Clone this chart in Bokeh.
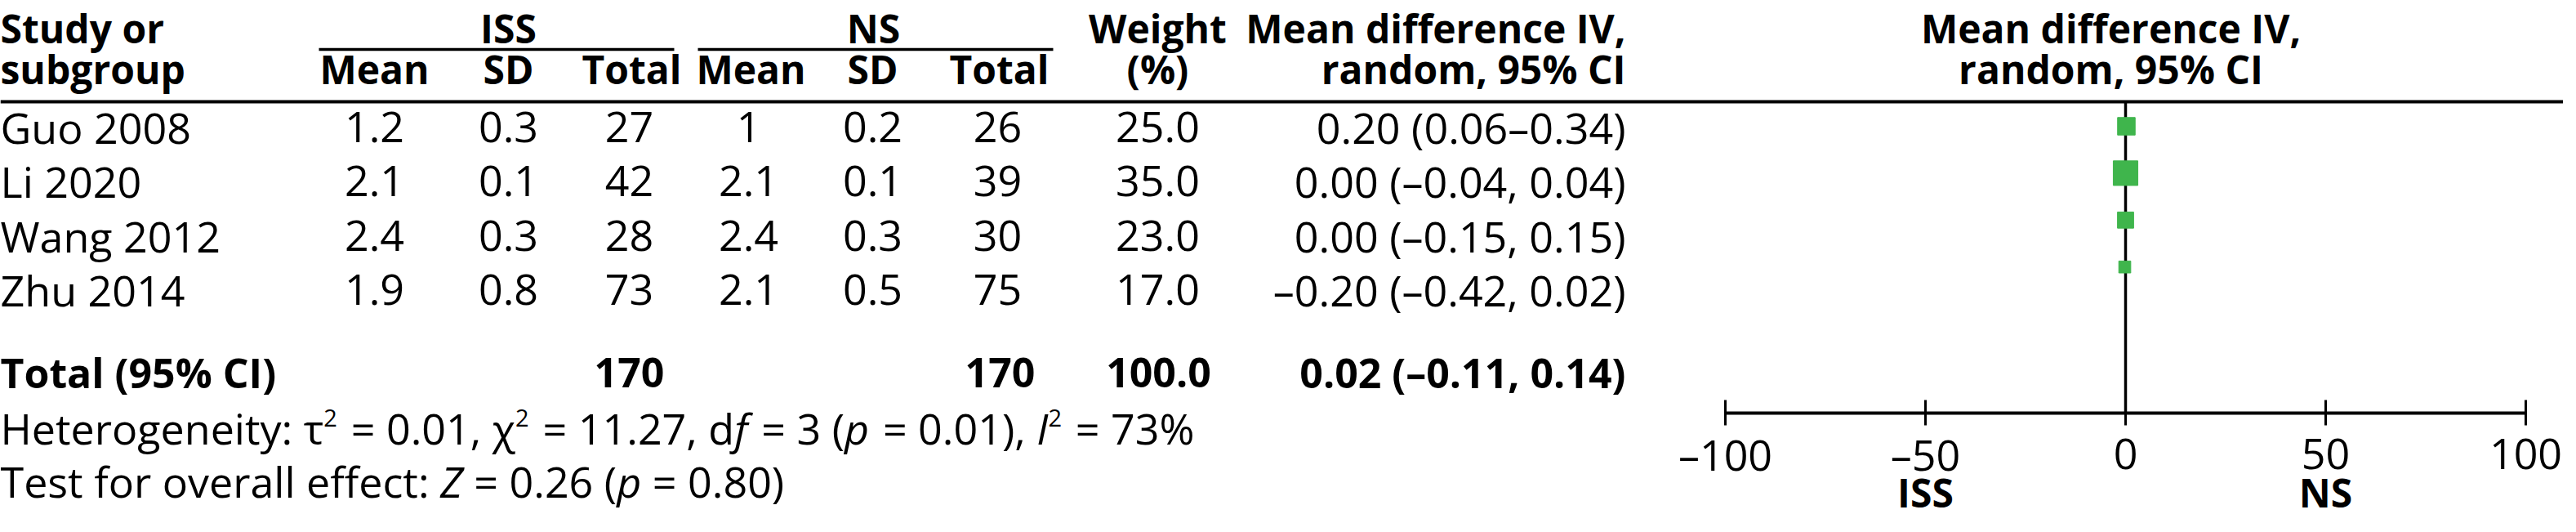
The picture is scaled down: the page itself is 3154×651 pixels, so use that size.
import subprocess
from bokeh.plotting import figure
from bokeh.models import Range1d
from bokeh.core.properties import value
from bokeh.embed import file_html
from bokeh.resources import INLINE

# ---------------- data ----------------
studies = ["Guo 2008", "Li 2020", "Wang 2012", "Zhu 2014"]
iss_mean = [1.2, 2.1, 2.4, 1.9]
iss_sd = [0.3, 0.1, 0.3, 0.8]
iss_total = [27, 42, 28, 73]
ns_mean = [1, 2.1, 2.4, 2.1]
ns_sd = [0.2, 0.1, 0.3, 0.5]
ns_total = [26, 39, 30, 75]
weights = [25.0, 35.0, 23.0, 17.0]
md = [0.20, 0.00, 0.00, -0.20]
md_lo = [0.06, -0.04, -0.15, -0.42]
md_hi = [0.34, 0.04, 0.15, 0.02]
ci_labels = ["0.20 (0.06–0.34)", "0.00 (–0.04, 0.04)",
             "0.00 (–0.15, 0.15)", "–0.20 (–0.42, 0.02)"]
total_name = "Total (95% CI)"
total_iss = 170
total_ns = 170
total_weight = 100.0
total_ci = "0.02 (–0.11, 0.14)"
axis_ticks = [-100, -50, 0, 50, 100]
axis_tick_labels = ["–100", "–50", "0", "50", "100"]
favour_labels = ["ISS", "NS"]
favour_pos = [-50, 50]

het_parts = [("Heterogeneity: τ", "normal"), ("2", "sup"), (" = 0.01, χ", "normal"),
             ("2", "sup"), (" = 11.27, d", "normal"), ("f", "italic"),
             (" = 3 (", "normal"), ("p", "italic"), (" = 0.01), ", "normal"),
             ("I", "italic"), ("2", "sup"), (" = 73%", "normal")]
test_parts = [("Test for overall effect: ", "normal"), ("Z", "italic"),
              (" = 0.26 (", "normal"), ("p", "italic"), (" = 0.80)", "normal")]

# ---------------- layout / style ----------------
FONT = "Open Sans"
FS = 52          # regular text
HFS = 48         # bold header text
TFS = 50         # bold total row
SUP_FS = 29
GREEN = "#3fb54c"
W, H = 3138, 635
MARGIN = 8
LEFT = MARGIN
BASE_OFF = 0.37  # text glyphs land this many em below the requested baseline

# layout units == page pixels (the page has an 8px margin)
p = figure(width=W, height=H, x_range=Range1d(MARGIN, MARGIN + W),
           y_range=Range1d(MARGIN + H, MARGIN),
           output_backend="svg", toolbar_location=None, min_border=0,
           x_axis_location=None, y_axis_location=None)
p.grid.visible = False
p.outline_line_color = None
p.background_fill_color = "white"
p.border_fill_color = "white"

ZERO_PX = 2610.0
PX_PER_UNIT = 4.9
p.extra_x_ranges = {"forest": Range1d((MARGIN - ZERO_PX) / PX_PER_UNIT,
                                      (MARGIN + W - ZERO_PX) / PX_PER_UNIT)}


def txt(xs, ys, texts, align="left", style="normal", size=FS, rng="default"):
    p.text(x=list(xs), y=[y - BASE_OFF * size for y in ys], text=list(texts), text_align=align,
           text_baseline="alphabetic", text_line_height=1.0, text_font=value(FONT),
           text_font_size=f"{size}px", text_font_style=style,
           text_color="black", x_range_name=rng)


_paths = {}


def _font_path(style):
    if style not in _paths:
        pat = {"normal": FONT, "italic": FONT + ":italic", "bold": FONT + ":bold"}[style]
        path = None
        try:
            out = subprocess.run(["fc-match", "-f", "%{file}", pat],
                                 capture_output=True, text=True, timeout=5).stdout.strip()
            path = out or None
        except Exception:
            path = None
        _paths[style] = path
    return _paths[style]


def measure(s, style, size):
    try:
        from PIL import ImageFont
        f = ImageFont.truetype(_font_path(style), size)
        return f.getlength(s)
    except Exception:
        return len(s) * 0.55 * size


def _kind_font(kind):
    return ("italic" if kind == "italic" else "normal"), (SUP_FS if kind == "sup" else FS)


def mixed_line(parts, x0, y, x_end):
    # natural positions measured with the real font; the extra width of the
    # reference line is shared out over the spaces that open a piece
    starts, nbound, x, nb = [], [], 0.0, 0
    for s, kind in parts:
        style, size = _kind_font(kind)
        lead = len(s) - len(s.lstrip(" "))
        nb += lead
        starts.append(x + (measure(" " * lead, style, size) if lead else 0.0))
        nbound.append(nb)
        x += measure(s, style, size)
    last_s, last_k = parts[-1]
    st_, sz_ = _kind_font(last_k)
    natural_end = starts[-1] + measure(last_s.strip(" "), st_, sz_)
    extra = min(8.0, max(0.0, (x_end - x0) - natural_end) / max(nbound[-1], 1))
    for (s, kind), st, n in zip(parts, starts, nbound):
        style, size = _kind_font(kind)
        body = s.strip(" ")
        if body:
            txt([x0 + st + extra * n], [y - 20 if kind == "sup" else y], [body],
                style=style, size=size)


# ---------------- header ----------------
H1, H2 = 60, 110
txt([LEFT], [H1], ["Study or"], style="bold", size=HFS)
txt([LEFT], [H2], ["subgroup"], style="bold", size=HFS)
txt([630, 1077], [H1, H1], ["ISS", "NS"], align="center", style="bold", size=HFS)
UL = 68
p.segment(x0=[398, 862], y0=[UL, UL], x1=[833, 1297], y1=[UL, UL], line_color="black", line_width=3.5)
sub_x = [466, 630, 781, 927, 1076, 1231]
txt(sub_x, [H2] * 6, ["Mean", "SD", "Total", "Mean", "SD", "Total"], align="center",
    style="bold", size=HFS)
txt([1425, 1425], [H1, H2], ["Weight", "(%)"], align="center", style="bold", size=HFS)
txt([1998, 1998], [H1, H2], ["Mean difference IV,", "random, 95% CI"], align="right",
    style="bold", size=HFS)
txt([2592, 2592], [H1, H2], ["Mean difference IV,", "random, 95% CI"], align="center",
    style="bold", size=HFS)
p.segment(x0=[MARGIN], y0=[132], x1=[MARGIN + W], y1=[132], line_color="black", line_width=4)

# ---------------- study rows ----------------
ROW0, ROWDY = 182, 66.4
row_y = [ROW0 + i * ROWDY for i in range(len(studies))]
txt([LEFT] * 4, row_y, studies)
txt([466] * 4, row_y, [f"{v:g}" for v in iss_mean], align="center")
txt([630] * 4, row_y, [f"{v:g}" for v in iss_sd], align="center")
txt([778] * 4, row_y, [str(v) for v in iss_total], align="center")
txt([924] * 4, row_y, [f"{v:g}" for v in ns_mean], align="center")
txt([1076] * 4, row_y, [f"{v:g}" for v in ns_sd], align="center")
txt([1229] * 4, row_y, [str(v) for v in ns_total], align="center")
txt([1425] * 4, row_y, [f"{v:.1f}" for v in weights], align="center")
txt([1998] * 4, row_y, ci_labels, align="right")

# ---------------- total row ----------------
TOT_Y = 482
txt([LEFT], [TOT_Y], [total_name], style="bold", size=TFS)
txt([778, 1232, 1426], [TOT_Y] * 3, [str(total_iss), str(total_ns), f"{total_weight:.1f}"],
    align="center", style="bold", size=TFS)
txt([1998], [TOT_Y], [total_ci], align="right", style="bold", size=TFS)

mixed_line(het_parts, LEFT, 550, 1470)
mixed_line(test_parts, LEFT, 615, 952)

# ---------------- forest panel ----------------
F0, FDY = 162, 57.4
f_y = [F0 + i * FDY for i in range(len(studies))]
p.segment(x0=[0], y0=[132], x1=[0], y1=[513], x_range_name="forest", line_color="black", line_width=3.5)
p.segment(x0=md_lo, y0=f_y, x1=md_hi, y1=f_y, x_range_name="forest", line_color="black", line_width=2)
p.scatter(x=md, y=f_y, size=[w * 0.86 for w in weights], marker="square",
          fill_color=GREEN, line_color=GREEN, x_range_name="forest")

AX_Y = 513
p.segment(x0=[axis_ticks[0]], y0=[AX_Y], x1=[axis_ticks[-1]], y1=[AX_Y],
          x_range_name="forest", line_color="black", line_width=4)
p.segment(x0=axis_ticks, y0=[AX_Y - 16] * len(axis_ticks), x1=axis_ticks,
          y1=[AX_Y + 15] * len(axis_ticks), x_range_name="forest", line_color="black", line_width=3)
txt(axis_ticks, [582] * len(axis_ticks), axis_tick_labels, align="center", rng="forest")
txt(favour_pos, [628, 628], favour_labels, align="center", style="bold", size=HFS, rng="forest")

open("out.html", "w").write(file_html(p, INLINE))
